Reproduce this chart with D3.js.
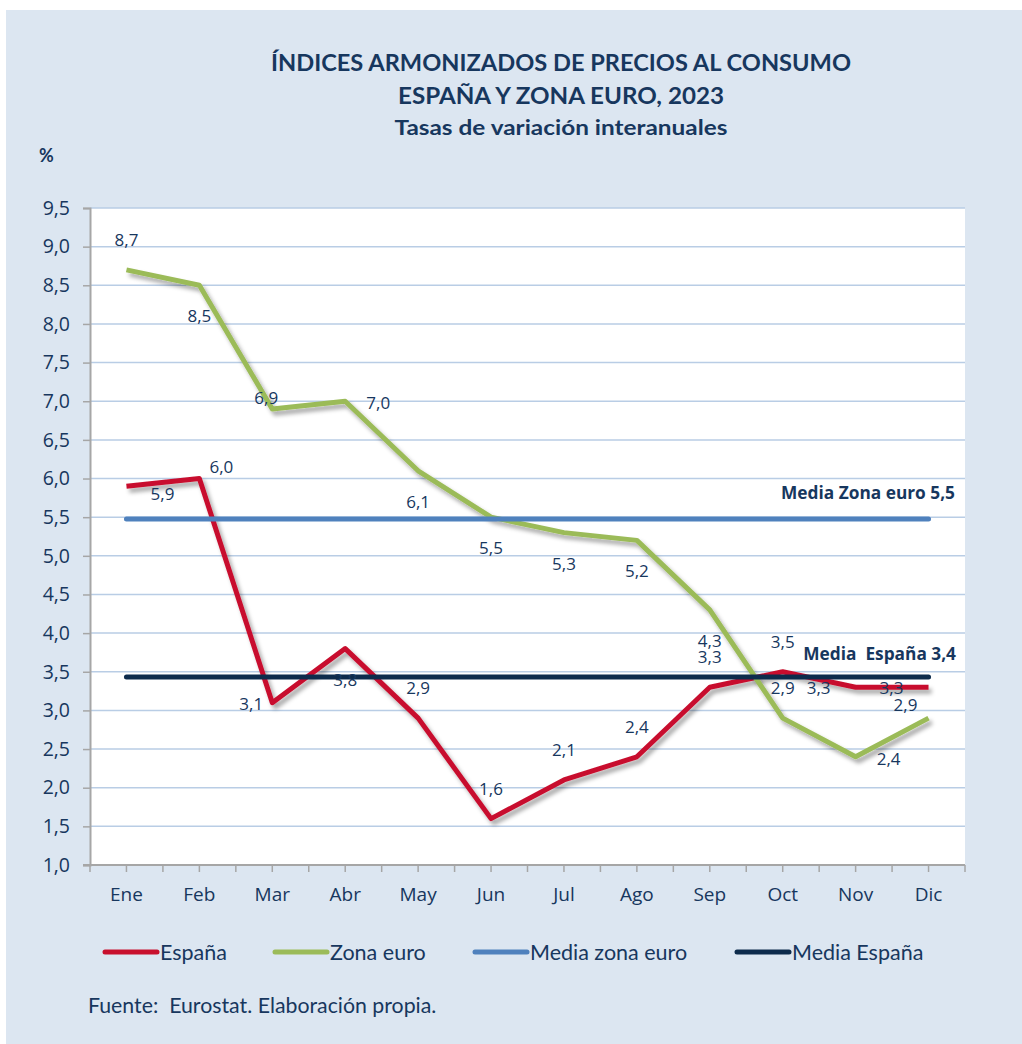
<!DOCTYPE html>
<html lang="es">
<head>
<meta charset="utf-8">
<title>IAPC España y Zona euro 2023</title>
<script src="https://d3js.org/d3.v7.min.js"></script>
<style>
  body { margin: 0; background: #ffffff; }
  svg text { fill: #17375e; }
</style>
</head>
<body>
<div id="chart"></div>
<script>
// months, series values and tick labels
var months = ["Ene", "Feb", "Mar", "Abr", "May", "Jun", "Jul", "Ago", "Sep", "Oct", "Nov", "Dic"];
var espana = [5.9, 6.0, 3.1, 3.8, 2.9, 1.6, 2.1, 2.4, 3.3, 3.5, 3.3, 3.3];
var zonaEuro = [8.7, 8.5, 6.9, 7.0, 6.1, 5.5, 5.3, 5.2, 4.3, 2.9, 2.4, 2.9];
var yTicks = [1.0, 1.5, 2.0, 2.5, 3.0, 3.5, 4.0, 4.5, 5.0, 5.5, 6.0, 6.5, 7.0, 7.5, 8.0, 8.5, 9.0, 9.5];
var legendNames = ["España", "Zona euro", "Media zona euro", "Media España"];

// where each data label sits relative to its point
var espanaLabelPos = ["br", "tr", "ls", "b", "t", "t", "t", "t", "t", "t", "l", "l"];
var zonaLabelPos = ["t", "b", "c", "r", "b", "b", "b", "b", "b", "t", "r", "tl"];
var labelOffsets = {
  t: [0, -30], b: [0, 31], l: [-37, 1], ls: [-21, 1], r: [33, 2],
  c: [-6, -11], tr: [22, -11], br: [36, 8], tl: [-23, -13]
};

var colors = {
  espana: "#c8102e",
  zona: "#9bbb59",
  mediaZona: "#4f81bd",
  mediaEsp: "#0d2b4c"
};

var width = 1022, height = 1044;
var plot = {left: 90, right: 965, top: 208, bottom: 865};

var loc = d3.formatLocale({decimal: ",", thousands: ".", grouping: [3], currency: ["", "€"]});
var fmt = loc.format(".1f");

var svg = d3.select("#chart").append("svg")
  .attr("width", width)
  .attr("height", height);

var defs = svg.append("defs");
var shadow = defs.append("filter")
  .attr("id", "shadow")
  .attr("x", "-10%").attr("y", "-10%")
  .attr("width", "120%").attr("height", "130%");
shadow.append("feDropShadow")
  .attr("dx", 3).attr("dy", 4)
  .attr("stdDeviation", 2.2)
  .attr("flood-color", "#000")
  .attr("flood-opacity", 0.35);

// outer background
svg.append("rect")
  .attr("x", 6).attr("y", 10)
  .attr("width", width - 6).attr("height", height - 10)
  .attr("fill", "#dce6f1");

// titles
var titles = [
  {text: "ÍNDICES ARMONIZADOS DE PRECIOS AL CONSUMO", y: 71, size: 22, len: 580},
  {text: "ESPAÑA Y ZONA EURO, 2023", y: 104, size: 22, len: 326},
  {text: "Tasas de variación interanuales", y: 135, size: 20, len: 333}
];
svg.selectAll("text.title")
  .data(titles)
  .enter()
  .append("text")
  .attr("class", "title")
  .attr("x", 561)
  .attr("y", d => d.y)
  .attr("text-anchor", "middle")
  .attr("font-family", "Lato, 'Open Sans', sans-serif")
  .attr("font-weight", "bold")
  .attr("font-size", d => d.size)
  .attr("textLength", d => d.len)
  .attr("lengthAdjust", "spacingAndGlyphs")
  .text(d => d.text);

svg.append("text")
  .attr("x", 39).attr("y", 162)
  .attr("font-family", "Lato, sans-serif")
  .attr("font-weight", "bold")
  .attr("font-size", 18)
  .text("%");

// scales
var x = d3.scaleBand()
  .domain(months)
  .range([plot.left, plot.right])
  .padding(0);

var y = d3.scaleLinear()
  .domain([1, 9.5])
  .range([plot.bottom, plot.top]);

var cx = d => x(d) + x.bandwidth() / 2;

// plot area
svg.append("rect")
  .attr("x", plot.left).attr("y", plot.top)
  .attr("width", plot.right - plot.left)
  .attr("height", plot.bottom - plot.top)
  .attr("fill", "#ffffff");

// gridlines
svg.append("g")
  .selectAll("line")
  .data(yTicks.filter(v => v > 1))
  .enter()
  .append("line")
  .attr("x1", plot.left).attr("x2", plot.right)
  .attr("y1", d => y(d)).attr("y2", d => y(d))
  .attr("stroke", "#b9cde5")
  .attr("stroke-width", 1.5);

// y axis
var yAxis = d3.axisLeft(y)
  .tickValues(yTicks)
  .tickFormat(fmt)
  .tickSize(7)
  .tickPadding(13);

var gy = svg.append("g")
  .attr("transform", `translate(${plot.left},0)`)
  .call(yAxis);
gy.select(".domain").attr("stroke", "#a6a6a6").attr("stroke-width", 2);
gy.selectAll(".tick line").attr("stroke", "#a6a6a6").attr("stroke-width", 1.5);
gy.selectAll(".tick text")
  .attr("font-family", "'Open Sans', sans-serif")
  .attr("font-size", 19.5)
  .attr("fill", "#17375e");

// x axis: ticks at band edges and band centres
var xTickPos = [];
months.forEach(m => { xTickPos.push(x(m)); xTickPos.push(cx(m)); });
xTickPos.push(plot.right);

var gx = svg.append("g");
gx.append("line")
  .attr("x1", plot.left - 7).attr("x2", plot.right)
  .attr("y1", plot.bottom).attr("y2", plot.bottom)
  .attr("stroke", "#a6a6a6").attr("stroke-width", 2);
gx.selectAll("line.tk")
  .data(xTickPos)
  .enter()
  .append("line")
  .attr("class", "tk")
  .attr("x1", d => d).attr("x2", d => d)
  .attr("y1", plot.bottom).attr("y2", plot.bottom + 7)
  .attr("stroke", "#a6a6a6").attr("stroke-width", 1.5);
gx.selectAll("text")
  .data(months)
  .enter()
  .append("text")
  .attr("x", d => cx(d))
  .attr("y", plot.bottom + 36)
  .attr("text-anchor", "middle")
  .attr("font-family", "'Open Sans', sans-serif")
  .attr("font-size", 19)
  .text(d => d);

// series lines
var line = d3.line()
  .x((d, i) => cx(months[i]))
  .y(d => y(d));

svg.append("path")
  .datum(espana)
  .attr("d", line)
  .attr("fill", "none")
  .attr("stroke", colors.espana)
  .attr("stroke-width", 5)
  .attr("stroke-linejoin", "round")
  .attr("filter", "url(#shadow)");

svg.append("path")
  .datum(zonaEuro)
  .attr("d", line)
  .attr("fill", "none")
  .attr("stroke", colors.zona)
  .attr("stroke-width", 5)
  .attr("stroke-linejoin", "round")
  .attr("filter", "url(#shadow)");

// mean lines
var mediaZona = d3.mean(zonaEuro);
var mediaEsp = d3.mean(espana);

[[mediaZona, colors.mediaZona], [mediaEsp, colors.mediaEsp]].forEach(function(m) {
  svg.append("line")
    .attr("x1", cx(months[0]))
    .attr("x2", cx(months[months.length - 1]))
    .attr("y1", y(m[0])).attr("y2", y(m[0]))
    .attr("stroke", m[1])
    .attr("stroke-width", 5)
    .attr("stroke-linecap", "round");
});

svg.append("text")
  .attr("x", 955).attr("y", y(mediaZona) - 20)
  .attr("text-anchor", "end")
  .attr("font-family", "'Open Sans', sans-serif")
  .attr("font-weight", "bold")
  .attr("font-size", 17.3)
  .text("Media Zona euro " + fmt(mediaZona));

svg.append("text")
  .attr("x", 956).attr("y", y(mediaEsp) - 17)
  .attr("text-anchor", "end")
  .attr("font-family", "'Open Sans', sans-serif")
  .attr("font-weight", "bold")
  .attr("font-size", 17.3)
  .attr("xml:space", "preserve")
  .text("Media  España " + fmt(mediaEsp));

// data labels
function drawLabels(values, pos) {
  svg.append("g")
    .selectAll("text")
    .data(values)
    .enter()
    .append("text")
    .attr("x", (d, i) => cx(months[i]) + labelOffsets[pos[i]][0])
    .attr("y", (d, i) => y(d) + labelOffsets[pos[i]][1])
    .attr("dy", "0.35em")
    .attr("text-anchor", "middle")
    .attr("font-family", "'Open Sans', sans-serif")
    .attr("font-size", 17)
    .text(d => fmt(d));
}
drawLabels(zonaEuro, zonaLabelPos);
drawLabels(espana, espanaLabelPos);

// legend
var legendItems = [
  {name: legendNames[0], color: colors.espana, x: 105},
  {name: legendNames[1], color: colors.zona, x: 275},
  {name: legendNames[2], color: colors.mediaZona, x: 475},
  {name: legendNames[3], color: colors.mediaEsp, x: 737}
];
var lg = svg.append("g").selectAll("g")
  .data(legendItems)
  .enter()
  .append("g")
  .attr("transform", d => `translate(${d.x},952)`);
lg.append("line")
  .attr("x1", 0).attr("x2", 52)
  .attr("stroke", d => d.color)
  .attr("stroke-width", 5)
  .attr("stroke-linecap", "round");
lg.append("text")
  .attr("x", 55)
  .attr("dy", "0.35em")
  .attr("font-family", "Lato, sans-serif")
  .attr("font-size", 21.5)
  .text(d => d.name);

svg.append("text")
  .attr("x", 88).attr("y", 1013)
  .attr("font-family", "Lato, sans-serif")
  .attr("font-size", 21.3)
  .attr("xml:space", "preserve")
  .text("Fuente:  Eurostat. Elaboración propia.");
</script>
</body>
</html>
